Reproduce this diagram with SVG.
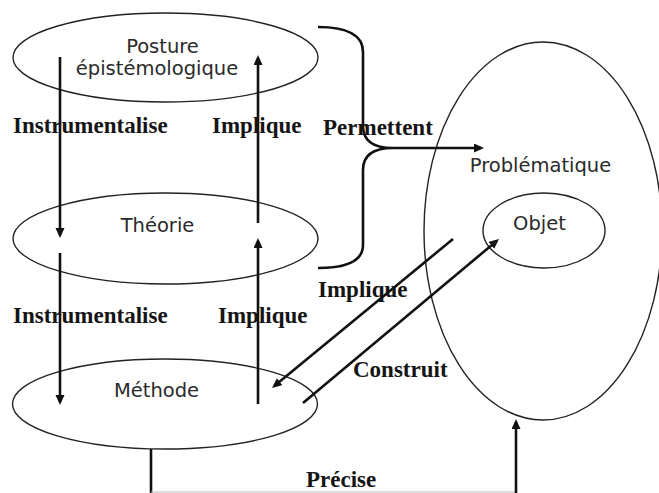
<svg xmlns="http://www.w3.org/2000/svg" width="659" height="493" viewBox="0 0 659 493">
<defs>
<marker id="ah" markerUnits="userSpaceOnUse" markerWidth="11" markerHeight="10" refX="7" refY="4.5" orient="auto">
<path d="M0,0 L10,4.5 L0,9 z" fill="#111"/>
</marker>
<style>
.el{fill:none;stroke:#222;stroke-width:1.4}
.lb{font-family:"DejaVu Sans","Verdana",sans-serif;font-size:19.5px;fill:#2a2a2a;text-anchor:middle}
.bl{font-family:"Liberation Serif","Times New Roman",serif;font-size:23px;font-weight:bold;fill:#151515}
.ln{fill:none;stroke:#111;stroke-width:2.6}
.ar{fill:none;stroke:#111;stroke-width:2.6;marker-end:url(#ah)}
</style>
</defs>
<rect width="659" height="493" fill="#fff"/>
<g id="posture">
<ellipse class="el" cx="165.5" cy="57.5" rx="152.5" ry="44.5"/>
<text class="lb" x="162.5" y="53">Posture</text>
<text class="lb" x="157" y="75">épistémologique</text>
</g>
<g id="theorie">
<ellipse class="el" cx="165.5" cy="238.5" rx="152.5" ry="45.5"/>
<text class="lb" x="157.5" y="232">Théorie</text>
</g>
<g id="methode">
<ellipse class="el" cx="165" cy="404" rx="152.5" ry="45"/>
<text class="lb" x="156.5" y="397">Méthode</text>
</g>
<g id="problematique">
<ellipse class="el" cx="543" cy="231" rx="119" ry="189"/>
<text class="lb" x="540.5" y="172">Problématique</text>
</g>
<g id="objet">
<ellipse class="el" cx="544" cy="230.5" rx="61" ry="37.5"/>
<text class="lb" x="539.5" y="230">Objet</text>
</g>
<g id="connectors">
<line class="ar" x1="60" y1="57" x2="60" y2="235"/>
<line class="ar" x1="60" y1="253" x2="60" y2="402"/>
<line class="ar" x1="258" y1="223" x2="258" y2="58"/>
<line class="ar" x1="258" y1="404" x2="258" y2="241"/>
<line class="ar" x1="453" y1="239" x2="274.3" y2="386.1"/>
<line class="ar" x1="303" y1="403" x2="496.7" y2="240.9"/>
<path class="ln" d="M318,27 Q363,27 363,52 L363,126 Q363,148 393,148 Q363,148 363,170 L363,245 Q363,268 318,268"/>
<line class="ar" x1="393" y1="148" x2="481" y2="148"/>
<line class="ln" x1="151" y1="449" x2="151" y2="493"/>
<line x1="151" y1="492" x2="516" y2="492" stroke="#bbb" stroke-width="1"/>
<line class="ar" x1="516" y1="493" x2="516" y2="422"/>
</g>
<g id="labels">
<text class="bl" x="13" y="133">Instrumentalise</text>
<text class="bl" x="212" y="133">Implique</text>
<text class="bl" x="323" y="135">Permettent</text>
<text class="bl" x="13" y="323">Instrumentalise</text>
<text class="bl" x="218" y="323">Implique</text>
<text class="bl" x="318" y="297">Implique</text>
<text class="bl" x="353" y="377">Construit</text>
<text class="bl" x="306" y="487">Précise</text>
</g>
</svg>
